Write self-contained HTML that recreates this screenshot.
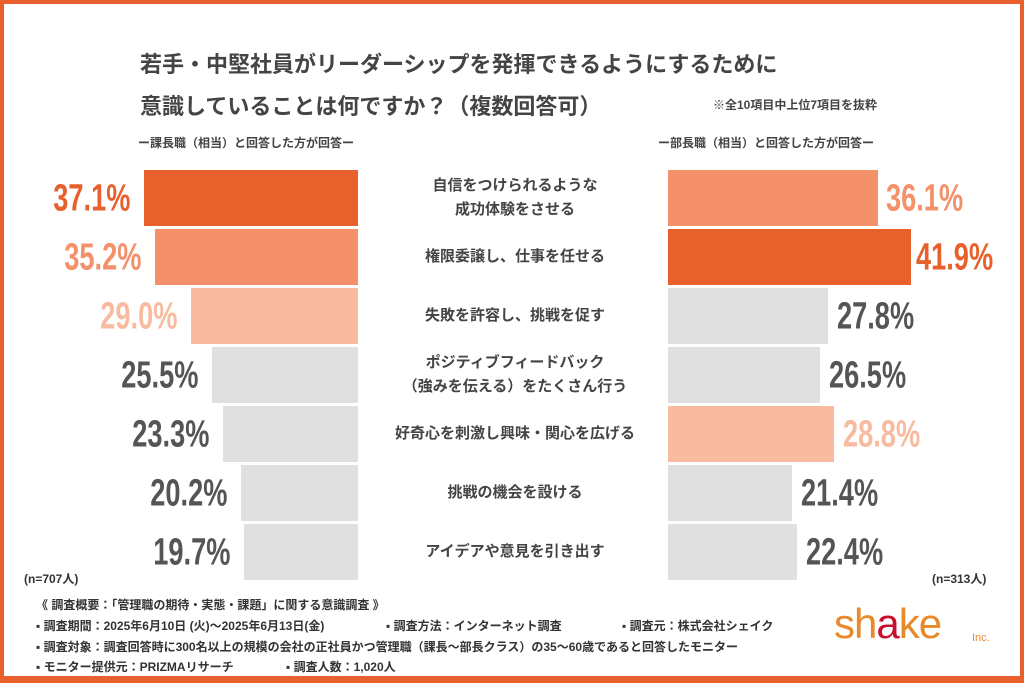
<!DOCTYPE html>
<html><head><meta charset="utf-8"><style>
*{margin:0;padding:0;box-sizing:border-box}
body{width:1024px;height:683px;overflow:hidden;background:#fff;font-family:"Liberation Sans","Noto Sans CJK JP",sans-serif;color:#444}
.frame{position:absolute;left:0;top:0;width:1024px;height:683px;border:4px solid #e8612c;border-bottom-width:7px}
.a{position:absolute;white-space:nowrap}
.t{font-size:22px;font-weight:bold;color:#444;left:140px}
.bar{position:absolute;height:56px}
.v{position:absolute;font-family:"Liberation Sans",sans-serif;font-weight:bold;font-size:34px;line-height:56px}
.l{transform:scale(0.8,1.12);transform-origin:right center}
.r{transform:scale(0.8,1.12);transform-origin:left center}
.c{position:absolute;left:370px;width:290px;text-align:center;font-size:15px;font-weight:bold;color:#444;line-height:24px}
.f{font-size:12px;color:#333;font-weight:bold;line-height:14px}
</style></head><body>
<div class="frame"></div>
<div class="a t" style="top:47px">若手・中堅社員がリーダーシップを発揮できるようにするために</div>
<div class="a t" style="top:89px">意識していることは何ですか？（複数回答可）</div>
<div class="a" style="left:713px;top:96px;font-size:12px;font-weight:bold">※全10項目中上位7項目を抜粋</div>
<div class="a" style="left:138px;top:134px;font-size:12px;font-weight:bold">ー課長職（相当）と回答した方が回答ー</div>
<div class="a" style="left:658px;top:134px;font-size:12px;font-weight:bold">ー部長職（相当）と回答した方が回答ー</div>

<div class="bar" style="left:144px;width:214px;top:170px;background:#e8612c"></div>
<div class="bar" style="left:155px;width:203px;top:229px;background:#f4916a"></div>
<div class="bar" style="left:191px;width:167px;top:288px;background:#f8bba0"></div>
<div class="bar" style="left:212px;width:146px;top:347px;background:#e0e0e0"></div>
<div class="bar" style="left:223px;width:135px;top:406px;background:#e0e0e0"></div>
<div class="bar" style="left:241px;width:117px;top:465px;background:#e0e0e0"></div>
<div class="bar" style="left:244px;width:114px;top:524px;background:#e0e0e0"></div>

<div class="v l" style="right:894px;top:170px;color:#e8612c">37.1%</div>
<div class="v l" style="right:883px;top:229px;color:#f4916a">35.2%</div>
<div class="v l" style="right:847px;top:288px;color:#f8bba0">29.0%</div>
<div class="v l" style="right:826px;top:347px;color:#555">25.5%</div>
<div class="v l" style="right:815px;top:406px;color:#555">23.3%</div>
<div class="v l" style="right:797px;top:465px;color:#555">20.2%</div>
<div class="v l" style="right:794px;top:524px;color:#555">19.7%</div>

<div class="bar" style="left:668px;width:210px;top:170px;background:#f4916a"></div>
<div class="bar" style="left:668px;width:243px;top:229px;background:#e8612c"></div>
<div class="bar" style="left:668px;width:160px;top:288px;background:#e0e0e0"></div>
<div class="bar" style="left:668px;width:152px;top:347px;background:#e0e0e0"></div>
<div class="bar" style="left:668px;width:166px;top:406px;background:#f8bba0"></div>
<div class="bar" style="left:668px;width:124px;top:465px;background:#e0e0e0"></div>
<div class="bar" style="left:668px;width:129px;top:524px;background:#e0e0e0"></div>

<div class="v r" style="left:886px;top:170px;color:#f4916a">36.1%</div>
<div class="v r" style="left:916px;top:229px;color:#e8612c">41.9%</div>
<div class="v r" style="left:837px;top:288px;color:#555">27.8%</div>
<div class="v r" style="left:829px;top:347px;color:#555">26.5%</div>
<div class="v r" style="left:843px;top:406px;color:#f8bba0">28.8%</div>
<div class="v r" style="left:801px;top:465px;color:#555">21.4%</div>
<div class="v r" style="left:806px;top:524px;color:#555">22.4%</div>

<div class="c" style="top:174px">自信をつけられるような<br>成功体験をさせる</div>
<div class="c" style="top:245px">権限委譲し、仕事を任せる</div>
<div class="c" style="top:304px">失敗を許容し、挑戦を促す</div>
<div class="c" style="top:351px">ポジティブフィードバック<br>（強みを伝える）をたくさん行う</div>
<div class="c" style="top:422px">好奇心を刺激し興味・関心を広げる</div>
<div class="c" style="top:481px">挑戦の機会を設ける</div>
<div class="c" style="top:540px">アイデアや意見を引き出す</div>

<div class="a f" style="left:24px;top:572px">(n=707人)</div>
<div class="a f" style="left:932px;top:572px">(n=313人)</div>

<div class="a f" style="left:36px;top:598px">《 調査概要：「管理職の期待・実態・課題」に関する意識調査 》</div>
<div class="a f" style="left:36px;top:619px">▪ 調査期間：2025年6月10日 (火)～2025年6月13日(金)</div>
<div class="a f" style="left:386px;top:619px">▪ 調査方法：インターネット調査</div>
<div class="a f" style="left:622px;top:619px">▪ 調査元：株式会社シェイク</div>
<div class="a f" style="left:36px;top:640px">▪ 調査対象：調査回答時に300名以上の規模の会社の正社員かつ管理職（課長～部長クラス）の35～60歳であると回答したモニター</div>
<div class="a f" style="left:36px;top:660px">▪ モニター提供元：PRIZMAリサーチ</div>
<div class="a f" style="left:286px;top:660px">▪ 調査人数：1,020人</div>

<div class="a" style="left:834px;top:600px;font-size:42px;color:#e8892a;letter-spacing:-1px;font-family:'Liberation Sans',sans-serif">sh<span style="color:#c8102e">a</span>ke</div>
<div class="a" style="left:972px;top:632px;font-size:11px;color:#e8892a">Inc.</div>
</body></html>
